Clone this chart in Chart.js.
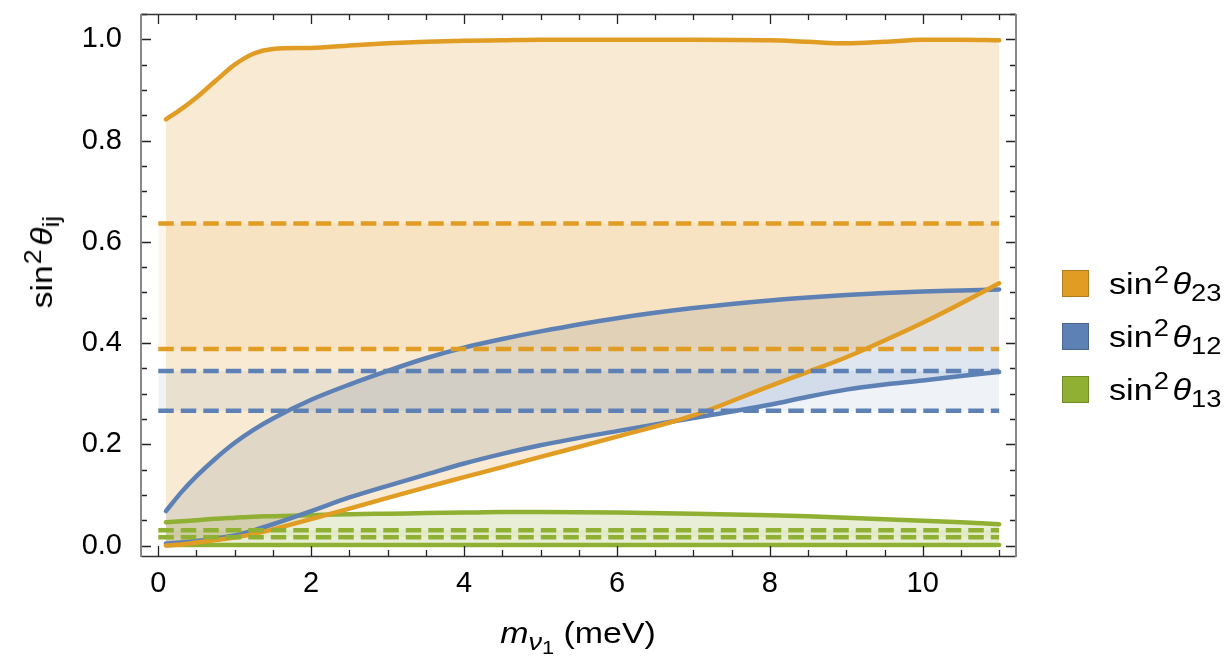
<!DOCTYPE html>
<html>
<head>
<meta charset="utf-8">
<script src="https://cdn.jsdelivr.net/npm/chart.js@4.4.1/dist/chart.umd.min.js"></script>
<style>
  html, body { margin:0; padding:0; background:#fff; overflow:hidden; }
  #wrap { position:relative; width:1227px; height:658px; font-family:"Liberation Sans", Arial, sans-serif; color:#000; }
  canvas { position:absolute; left:0; top:0; }
  .ytitle { position:absolute; left:42px; top:262px; transform:translate(-50%,-50%) rotate(-90deg) scaleX(1.12); font-size:30px; white-space:nowrap; }
  .xtitle { position:absolute; left:578px; top:633px; transform:translate(-50%,-50%) scaleX(1.13); font-size:30px; white-space:nowrap; }
  sup { font-size:0.8em; vertical-align:0.45em; line-height:0; margin-left:1px; }
  sub { font-size:0.8em; vertical-align:-0.3em; line-height:0; }
  sub.s1 { font-size:0.8em; vertical-align:-0.22em; }
  i.th { margin-left:3px; }
  .leg { position:absolute; left:1062px; display:flex; align-items:center; height:27px; }
  .sw { width:27px; height:27px; box-sizing:border-box; margin-right:20px; }
  .lt { font-size:30px; white-space:nowrap; position:relative; top:0px; transform:scaleX(1.14); transform-origin:left center; }
</style>
</head>
<body>
<div id="wrap">
  <canvas id="c" width="1227" height="658" style="width:1227px;height:658px"></canvas>
  <div class="ytitle">sin<sup>2</sup><i class="th">θ</i><sub>ij</sub></div>
  <div class="xtitle"><i>m</i><sub><i>ν</i><sub class="s1">1</sub></sub> (meV)</div>
  <div class="leg" style="top:270px"><div class="sw" style="background:#E19C24;border:1px solid #B27B1C"></div><div class="lt">sin<sup>2</sup><i class="th">θ</i><sub>23</sub></div></div>
  <div class="leg" style="top:323px"><div class="sw" style="background:#5E81B5;border:1px solid #4A668F"></div><div class="lt">sin<sup>2</sup><i class="th">θ</i><sub>12</sub></div></div>
  <div class="leg" style="top:376px"><div class="sw" style="background:#8FB032;border:1px solid #718B27"></div><div class="lt">sin<sup>2</sup><i class="th">θ</i><sub>13</sub></div></div>
</div>
<script>
// ---- data ----
const mNu = [0.1, 0.3, 0.5, 0.75, 1, 1.25, 1.5, 2, 2.5, 3, 3.5, 4, 4.5, 5, 6, 7, 8, 8.5, 9, 9.5, 10, 10.5, 11];
const s23Upper = [0.842, 0.862, 0.885, 0.918, 0.950, 0.972, 0.981, 0.983, 0.988, 0.992, 0.995, 0.997, 0.998, 0.999, 0.999, 0.999, 0.998, 0.995, 0.992, 0.995, 0.999, 0.999, 0.998];
const s23Lower = [0.000, 0.002, 0.006, 0.011, 0.016, 0.023, 0.032, 0.052, 0.073, 0.094, 0.115, 0.135, 0.155, 0.175, 0.215, 0.257, 0.315, 0.343, 0.372, 0.405, 0.440, 0.478, 0.518];
const s12Upper = [0.068, 0.105, 0.137, 0.172, 0.203, 0.229, 0.251, 0.288, 0.318, 0.345, 0.370, 0.391, 0.408, 0.423, 0.449, 0.469, 0.484, 0.490, 0.495, 0.499, 0.502, 0.504, 0.506];
const s12Lower = [0.004, 0.006, 0.009, 0.014, 0.020, 0.030, 0.042, 0.068, 0.095, 0.118, 0.140, 0.162, 0.181, 0.198, 0.226, 0.252, 0.278, 0.294, 0.308, 0.318, 0.326, 0.335, 0.343];
const s13Upper = [0.046, 0.048, 0.050, 0.053, 0.055, 0.057, 0.058, 0.060, 0.062, 0.063, 0.064, 0.065, 0.066, 0.066, 0.065, 0.063, 0.060, 0.058, 0.055, 0.052, 0.049, 0.046, 0.042];
const s13Lower = [0.001, 0.001, 0.001, 0.001, 0.001, 0.001, 0.001, 0.001, 0.001, 0.001, 0.001, 0.001, 0.001, 0.001, 0.001, 0.001, 0.001, 0.001, 0.001, 0.001, 0.001, 0.001, 0.001];
// experimental 3-sigma ranges (dashed lines)
const bandX = [0, 11];
const s23Range = [0.388, 0.636];
const s12Range = [0.266, 0.345];
const s13Range = [0.0165, 0.030];
// ticks
const xTickValues = [0, 2, 4, 6, 8, 10];
const yTickValues = [0.0, 0.2, 0.4, 0.6, 0.8, 1.0];

const ORANGE = '#E19C24', BLUE = '#5E81B5', GREEN = '#8FB032';
function rgba(hex, a){ const n=parseInt(hex.slice(1),16); return `rgba(${n>>16},${(n>>8)&255},${n&255},${a})`; }
const pts = (xs, ys) => xs.map((x,i)=>({x, y: ys[i]}));
const flat = (v) => bandX.map(x=>({x, y:v}));

function curve(ys, color, fill){
  return { data: pts(mNu, ys), borderColor: color, borderWidth: 4.5, pointRadius: 0, cubicInterpolationMode:'monotone',
           fill: fill ? '+1' : false, backgroundColor: rgba(color, 0.2), borderCapStyle:'round' };
}
function dashed(v, color, fill){
  return { data: flat(v), borderColor: color, borderWidth: 4.5, borderDash:[15.5,7], pointRadius: 0,
           fill: fill ? '+1' : false, backgroundColor: rgba(color, 0.1) };
}

const frame = {
  id:'frame',
  afterDraw(chart){
    const {ctx, chartArea:a, scales:{x, y}} = chart;
    ctx.save();
    ctx.lineWidth = 1.3; ctx.strokeStyle = '#222';
    for (let k = 0; k <= 22; k++){
      const v = k*0.5;
      const px = Math.round(x.getPixelForValue(v)) + 0.5;
      const L = (k % 4 === 0) ? 10 : 6;
      ctx.beginPath(); ctx.moveTo(px, a.bottom); ctx.lineTo(px, a.bottom - L);
      ctx.moveTo(px, a.top); ctx.lineTo(px, a.top + L); ctx.stroke();
    }
    for (let k = 0; k <= 21; k++){
      const v = k*0.05;
      const py = Math.round(y.getPixelForValue(v)) + 0.5;
      const L = (k % 4 === 0) ? 10 : 6;
      ctx.beginPath(); ctx.moveTo(a.left, py); ctx.lineTo(a.left + L, py);
      ctx.moveTo(a.right, py); ctx.lineTo(a.right - L, py); ctx.stroke();
    }
    ctx.strokeStyle = '#333'; ctx.lineWidth = 1.3;
    ctx.beginPath(); ctx.moveTo(a.left, a.top+0.5); ctx.lineTo(a.right, a.top+0.5);
    ctx.moveTo(a.left, a.bottom+0.5); ctx.lineTo(a.right, a.bottom+0.5); ctx.stroke();
    ctx.strokeStyle = '#888'; ctx.lineWidth = 2;
    ctx.beginPath(); ctx.moveTo(a.left, a.top); ctx.lineTo(a.left, a.bottom+1);
    ctx.moveTo(a.right, a.top); ctx.lineTo(a.right, a.bottom+1); ctx.stroke();
    ctx.restore();
  }
};

const noPad = s => { s.paddingTop = 0; s.paddingBottom = 0; s.paddingLeft = 0; s.paddingRight = 0; };

new Chart(document.getElementById('c'), {
  type: 'line',
  data: { datasets: [
    dashed(s23Range[1], ORANGE, true), dashed(s23Range[0], ORANGE, false),
    dashed(s12Range[1], BLUE, true), dashed(s12Range[0], BLUE, false),
    dashed(s13Range[1], GREEN, true), dashed(s13Range[0], GREEN, false),
    curve(s23Upper, ORANGE, true), curve(s23Lower, ORANGE, false),
    curve(s12Upper, BLUE, true), curve(s12Lower, BLUE, false),
    curve(s13Upper, GREEN, true), curve(s13Lower, GREEN, false)
  ]},
  options: {
    responsive: false, animation: false, devicePixelRatio: 1,
    layout: { padding: { left: 0, top: 14, right: 211, bottom: 0 } },
    plugins: { legend: { display:false }, tooltip: { enabled:false }, filler: { drawTime:'beforeDatasetsDraw', propagate:false } },
    scales: {
      x: { type:'linear', min:-0.226, max:11.22,
           grid:{ display:false, drawTicks:false }, border:{ display:false },
           ticks:{ color:'#000', font:{ family:'Liberation Sans', size:29 }, padding:11, maxRotation:0, autoSkip:false },
           afterBuildTicks: s => { s.ticks = xTickValues.map(v=>({value:v})); },
           afterFit: s => { s.height = 102; noPad(s); } },
      y: { type:'linear', min:-0.0207, max:1.05,
           grid:{ display:false, drawTicks:false }, border:{ display:false },
           ticks:{ color:'#000', font:{ family:'Liberation Sans', size:29 }, padding:19, autoSkip:false, callback: v => v.toFixed(1) },
           afterBuildTicks: s => { s.ticks = yTickValues.map(v=>({value:v})); },
           afterFit: s => { s.width = 141; noPad(s); } }
    }
  },
  plugins: [frame]
});
</script>
</body>
</html>
